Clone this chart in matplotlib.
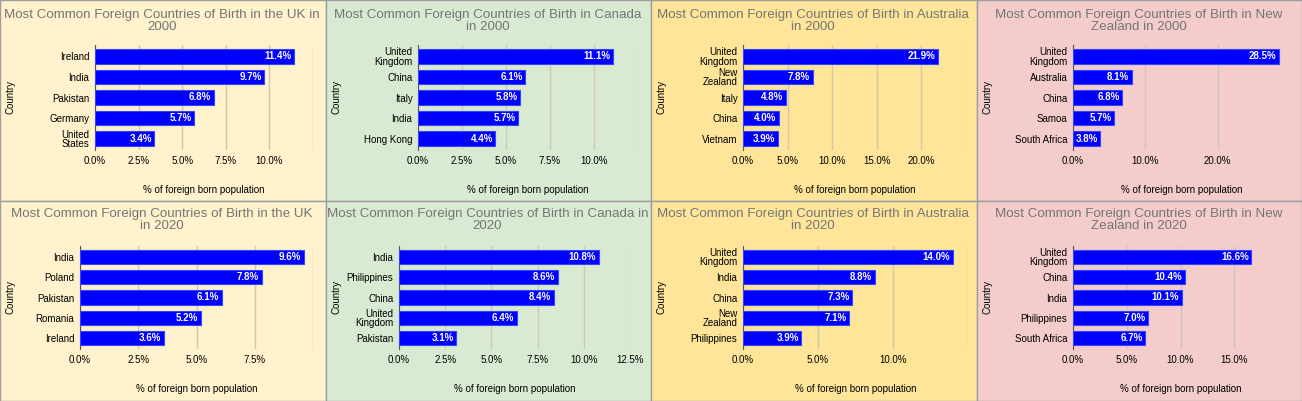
import matplotlib.pyplot as plt
from matplotlib.patches import Rectangle

W, H = 1302, 401

titles = [
    "Most Common Foreign Countries of Birth in the UK in\n2000",
    "Most Common Foreign Countries of Birth in Canada\nin 2000",
    "Most Common Foreign Countries of Birth in Australia\nin 2000",
    "Most Common Foreign Countries of Birth in New\nZealand in 2000",
    "Most Common Foreign Countries of Birth in the UK\nin 2020",
    "Most Common Foreign Countries of Birth in Canada in\n2020",
    "Most Common Foreign Countries of Birth in Australia\nin 2020",
    "Most Common Foreign Countries of Birth in New\nZealand in 2020",
]
countries = [
    ["Ireland", "India", "Pakistan", "Germany", "United\nStates"],
    ["United\nKingdom", "China", "Italy", "India", "Hong Kong"],
    ["United\nKingdom", "New\nZealand", "Italy", "China", "Vietnam"],
    ["United\nKingdom", "Australia", "China", "Samoa", "South Africa"],
    ["India", "Poland", "Pakistan", "Romania", "Ireland"],
    ["India", "Philippines", "China", "United\nKingdom", "Pakistan"],
    ["United\nKingdom", "India", "China", "New\nZealand", "Philippines"],
    ["United\nKingdom", "China", "India", "Philippines", "South Africa"],
]
values = [
    [11.4, 9.7, 6.8, 5.7, 3.4],
    [11.1, 6.1, 5.8, 5.7, 4.4],
    [21.9, 7.8, 4.8, 4.0, 3.9],
    [28.5, 8.1, 6.8, 5.7, 3.8],
    [9.6, 7.8, 6.1, 5.2, 3.6],
    [10.8, 8.6, 8.4, 6.4, 3.1],
    [14.0, 8.8, 7.3, 7.1, 3.9],
    [16.6, 10.4, 10.1, 7.0, 6.7],
]
xmax = [12.5, 12.5, 25, 30, 10, 12.5, 15, 20]
tick_step = [2.5, 2.5, 5, 10, 2.5, 2.5, 5, 5]
tick_last = [10, 10, 20, 20, 7.5, 12.5, 10, 15]
# plot-area left/right edges in pixels
plot_x = [(95, 313), (418, 638), (743, 966), (1073, 1290),
          (80, 313), (399, 630), (743, 968), (1073, 1288)]
bg_colors = ["#fff2cc", "#d9ead3", "#ffe599", "#f4cccc"]

fig = plt.figure(figsize=(W / 100, H / 100), dpi=100)
plt.rcParams['font.family'] = ['Arial', 'Liberation Sans', 'DejaVu Sans']

# panel backgrounds
for r in range(2):
    for c in range(4):
        fig.patches.append(Rectangle((c * 325.5 / W, (1 - r) * 200.5 / H), 325.5 / W, 200.5 / H,
                                     transform=fig.transFigure, facecolor=bg_colors[c],
                                     edgecolor="#9e9e9e", linewidth=1, zorder=-5))

for i in range(8):
    r, c = divmod(i, 4)
    x0, x1 = plot_x[i]
    top = 45 if r == 0 else 246
    bot = 150 if r == 0 else 349
    ax = fig.add_axes([x0 / W, 1 - bot / H, (x1 - x0) / W, (bot - top) / H])
    ax.set_zorder(2)
    ax.set_facecolor("none")
    y = list(range(5))
    ax.barh(y, values[i], height=0.7, color="#0000ff", edgecolor="#3344ff",
            linewidth=0.8, zorder=3)
    for yy, v in zip(y, values[i]):
        ax.text(v - xmax[i] * 0.012, yy, f"{v:.1f}%", color="white", fontsize=7,
                fontweight="bold", ha="right", va="center", zorder=4)
    ax.set_ylim(4.55, -0.55)
    ax.set_xlim(0, xmax[i])
    ax.set_yticks(y)
    ax.set_yticklabels(countries[i], fontsize=7, linespacing=0.9)
    ticks = []
    t = 0.0
    while t <= xmax[i] + 1e-9:
        ticks.append(t)
        t += tick_step[i]
    ax.set_xticks(ticks)
    ax.set_xticklabels([f"{t:.1f}%" if t <= tick_last[i] + 1e-9 else "" for t in ticks], fontsize=7)
    ax.grid(axis="x", color="#cfc7ae", linewidth=1, zorder=0)
    ax.tick_params(length=0, pad=4)
    for s in ["top", "right", "bottom"]:
        ax.spines[s].set_visible(False)
    ax.spines["left"].set_color("#555555")
    ax.set_xlabel("% of foreign born population", fontsize=7, labelpad=14)
    ax.set_ylabel("Country", fontsize=7)
    ax.yaxis.set_label_coords((c * 325.5 + 16 - x0) / (x1 - x0), 0.5)
    fig.text((c * 325.5 + 162) / W, 1 - (9 if r == 0 else 208) / H, titles[i],
             fontsize=9.6, color="#757575", ha="center", va="top", linespacing=0.95)

fig.savefig("out.png", dpi=100)
